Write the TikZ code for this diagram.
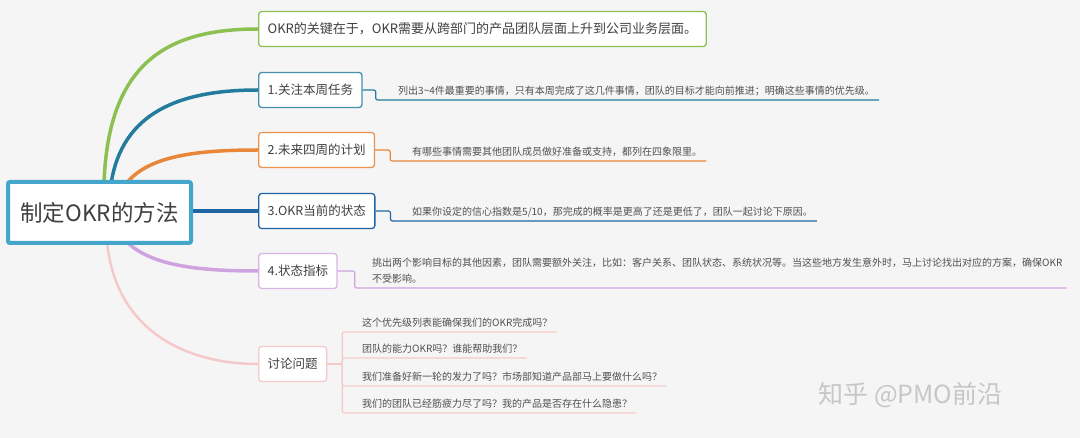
\documentclass[tikz,border=0pt]{standalone}
\usepackage{fontspec}
\setmainfont{Noto Sans CJK SC}
\usetikzlibrary{positioning}

\definecolor{bgcol}{HTML}{F6F5F6}
\definecolor{txtcol}{HTML}{404040}
\definecolor{notecol}{HTML}{505050}
\definecolor{rootcol}{HTML}{45A6CB}
\definecolor{greencol}{HTML}{8CC152}
\definecolor{tealcol}{HTML}{237C9C}
\definecolor{orangecol}{HTML}{E8873A}
\definecolor{bluecol}{HTML}{1F65A3}
\definecolor{purplecol}{HTML}{CFA3E0}
\definecolor{pinkcol}{HTML}{F5C9C9}

\tikzset{
  topic/.style={draw, fill=white, rounded corners=3pt, line width=1.3pt, minimum height=35pt,
    inner xsep=9pt, font=\fontsize{12.5}{15}\selectfont, text=txtcol, anchor=west},
  note/.style={anchor=south west, inner xsep=4pt, inner ysep=3.5pt, text depth=2pt,
    font=\fontsize{10}{16}\selectfont, text=notecol, align=left},
  branch/.style={line width=3.5pt, line cap=round},
  link/.style={line width=1.2pt, rounded corners=2pt},
}

\begin{document}
\begin{tikzpicture}[x=1pt,y=-1pt]
\fill[bgcol] (0,0) rectangle (1080,438);
\useasboundingbox (0,0) rectangle (1080,438);

% branches from the root
\draw [branch, greencol] (104,184) .. controls (108,60) and (170,29) .. (258,29);
\draw [branch, tealcol] (111,184) .. controls (122,112) and (180,90) .. (258,90);
\draw [branch, orangecol] (126,184) .. controls (148,155) and (200,150) .. (258,150);
\draw [branch, bluecol] (190,211) -- (258,211);
\draw [branch, purplecol] (126,241) .. controls (150,266) and (200,271) .. (258,271);
\draw [branch, pinkcol, line width=2.5pt] (107,241) .. controls (115,330) and (185,364) .. (258,364);

\node [draw=rootcol, fill=white, line width=4pt, rounded corners=2pt, minimum width=183pt,
  minimum height=61pt, font=\fontsize{22.5}{26}\selectfont, text=txtcol] (root) at (99.5,212.5) {制定OKR的方法};

\node [topic, draw=greencol, font=\fontsize{13}{15}\selectfont] (n0) at (258,29) {OKR的关键在于，OKR需要从跨部门的产品团队层面上升到公司业务层面。};
\node [topic, draw=tealcol!85] (n1) at (258,90) {1.关注本周任务};
\node [topic, draw=orangecol!90] (n2) at (258,150) {2.未来四周的计划};
\node [topic, draw=bluecol] (n3) at (258,211) {3.OKR当前的状态};
\node [topic, draw=purplecol!80] (n4) at (258,271) {4.状态指标};
\node [topic, draw=pinkcol] (n5) at (258,364) {讨论问题};

% notes
\node [note] (d1) at (394,100) {列出3\textasciitilde4件最重要的事情，只有本周完成了这几件事情，团队的目标才能向前推进；明确这些事情的优先级。};
\node [note] (d2) at (408,161) {有哪些事情需要其他团队成员做好准备或支持，都列在四象限里。};
\node [note] (d3) at (408,221) {如果你设定的信心指数是5/10，那完成的概率是更高了还是更低了，团队一起讨论下原因。};
\node [note] (d4) at (368,288) {挑出两个影响目标的其他因素，团队需要额外关注，比如：客户关系、团队状态、系统状况等。当这些地方发生意外时，马上讨论找出对应的方案，确保OKR\\不受影响。};

\draw [link, tealcol] (n1.east) -- ++(13,0) |- (d1.south east);
\draw [link, orangecol] (n2.east) -- ++(15,0) |- (d2.south east);
\draw [link, bluecol] (n3.east) -- ++(15,0) |- (d3.south east);
\draw [link, purplecol] (n4.east) -- ++(17,0) |- (d4.south east);

% questions
\node [note] (q1) at (358,332) {这个优先级列表能确保我们的OKR完成吗？};
\node [note] (q2) at (358,358) {团队的能力OKR吗？谁能帮助我们？};
\node [note] (q3) at (358,386) {我们准备好新一轮的发力了吗？市场部知道产品部马上要做什么吗？};
\node [note] (q4) at (358,413) {我们的团队已经筋疲力尽了吗？我的产品是否存在什么隐患？};
\foreach \q in {q1,q2,q3,q4}
  \draw [link, pinkcol] (n5.east) -- ++(15,0) |- (\q.south east);

\node [anchor=west, font=\fontsize{25}{28}\selectfont, text=black!22] (wm) at (815,395) {知乎 @PMO前沿};
\end{tikzpicture}
\end{document}
